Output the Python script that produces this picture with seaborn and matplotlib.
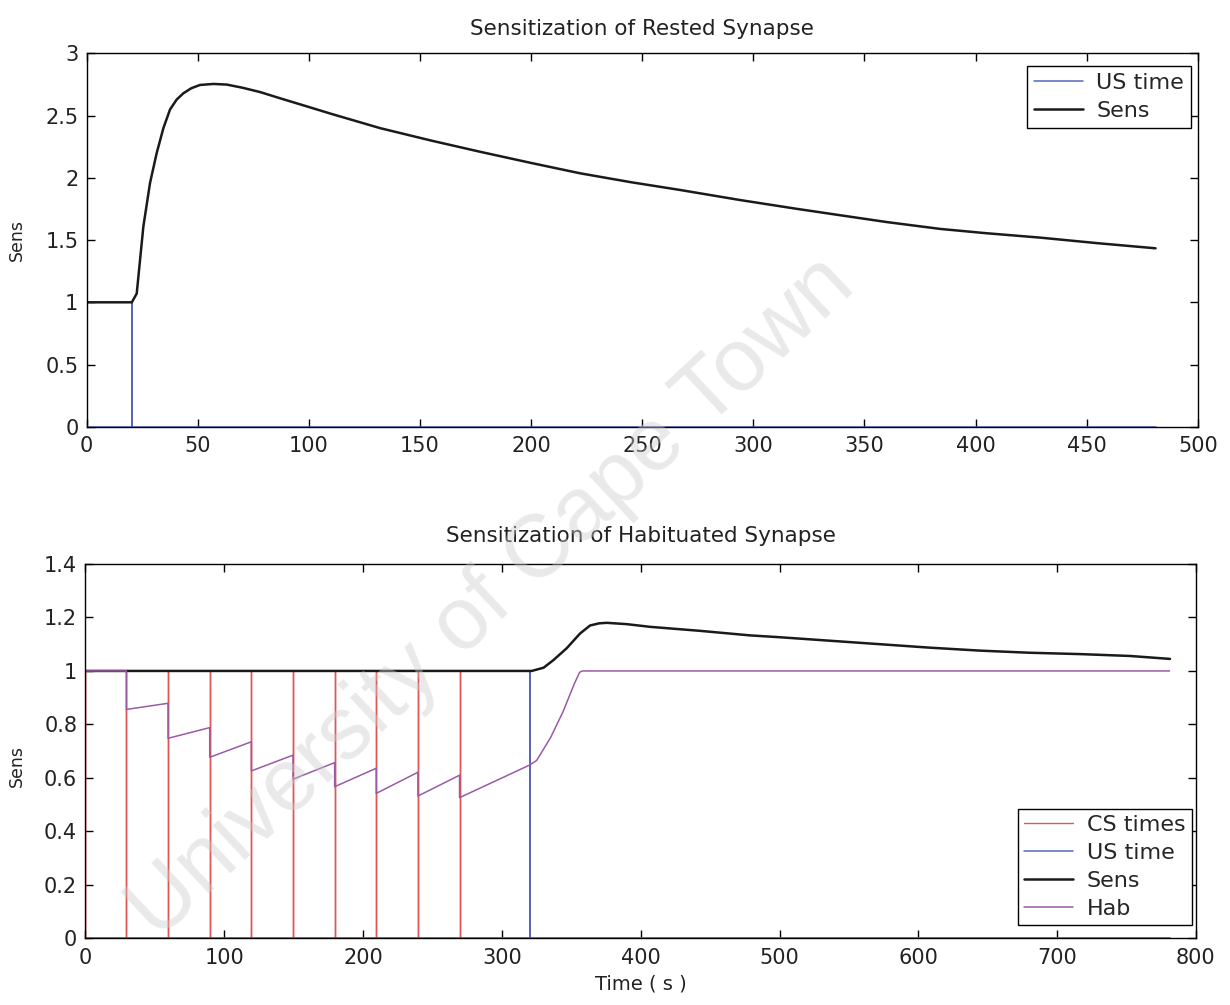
import matplotlib
matplotlib.use("Agg")
import numpy as np
import pandas as pd
import seaborn as sns
import matplotlib.pyplot as plt
from matplotlib.ticker import FuncFormatter

# ---------------- data ----------------
# Top panel: sensitization of a rested synapse
top_us_time = 20.3
top_end = 481.0
top_sens_t = [0, 20.3, 22.5, 25.5, 28.5, 31.5, 34.5, 37.5, 40.5, 43.5, 47, 51, 57, 63,
              70, 78, 87, 99, 110, 132, 155, 177, 200, 222, 245, 267, 294, 320, 339,
              360, 384, 405, 429, 455, 481]
top_sens_v = [1.0, 1.0, 1.07, 1.61, 1.96, 2.20, 2.40, 2.55, 2.63, 2.68, 2.72, 2.747, 2.755,
              2.750, 2.725, 2.69, 2.64, 2.575, 2.515, 2.40, 2.30, 2.21, 2.12, 2.037, 1.965,
              1.903, 1.822, 1.75, 1.70, 1.645, 1.59, 1.555, 1.52, 1.475, 1.434]

# Bottom panel: sensitization of a habituated synapse
bot_end = 781.0
cs_times = [0, 29.5, 59.5, 89.5, 119.5, 149.5, 179.5, 209.5, 239.5, 269.5]
bot_us_time = 320.0
hab_before = [1.0, 0.879, 0.788, 0.735, 0.685, 0.657, 0.636, 0.621, 0.610]
hab_after = [0.856, 0.748, 0.677, 0.626, 0.595, 0.567, 0.542, 0.532, 0.526]
hab_rec_t = [320, 325, 335, 344, 352, 356, 358, 781]
hab_rec_v = [0.648, 0.665, 0.75, 0.847, 0.95, 0.995, 1.0, 1.0]
bot_sens_t = [0, 321.5, 330, 337, 346.7, 356.3, 363.5, 370, 375.5, 390, 406.7, 442.7,
              478.7, 500.4, 536.4, 572.4, 608.4, 644.4, 680.4, 716.5, 752.5, 781.3]
bot_sens_v = [1.0, 1.0, 1.012, 1.04, 1.085, 1.14, 1.17, 1.178, 1.18, 1.175, 1.165, 1.15,
              1.133, 1.126, 1.113, 1.10, 1.087, 1.076, 1.068, 1.063, 1.056, 1.045]

top_xticks = list(range(0, 501, 50))
top_yticks = [0, 0.5, 1, 1.5, 2, 2.5, 3]
bot_xticks = list(range(0, 801, 100))
bot_yticks = [0, 0.2, 0.4, 0.6, 0.8, 1.0, 1.2, 1.4]

# ---------------- build series ----------------
def spikes(times, end):
    xs, ys = [0.0], [0.0]
    for c in times:
        xs += [c, c, c]
        ys += [0.0, 1.0, 0.0]
    xs.append(end)
    ys.append(0.0)
    return pd.DataFrame({"t": xs, "v": ys})

top_us_df = spikes([top_us_time], top_end)
top_sens_df = pd.DataFrame({"t": top_sens_t, "v": top_sens_v})

cs_df = spikes(cs_times, bot_end)
bot_us_df = spikes([bot_us_time], bot_end)
bot_sens_df = pd.DataFrame({"t": bot_sens_t, "v": bot_sens_v})
hx, hy = [0.0], [1.0]
for c, b, a in zip(cs_times[1:], hab_before, hab_after):
    hx += [c, c]
    hy += [b, a]
hx += hab_rec_t
hy += hab_rec_v
hab_df = pd.DataFrame({"t": hx, "v": hy})

# ---------------- style ----------------
sns.set_style("ticks")
plt.rcParams["font.family"] = ["DejaVu Sans"]
plt.rcParams["axes.edgecolor"] = "black"
plt.rcParams["axes.linewidth"] = 1.0

C_CS = "#e05555"
C_US = "#5566bb"
C_SENS = "#1a1a1a"
C_HAB = "#9a5aa5"

fig = plt.figure(figsize=(12.3, 10.05), dpi=100)
ax1 = fig.add_axes([0.0705, 0.5754, 0.9033, 0.3714])
ax2 = fig.add_axes([0.0695, 0.0664, 0.9028, 0.3724])

common = dict(x="t", y="v", estimator=None, sort=False)
sns.lineplot(data=top_us_df, ax=ax1, color=C_US, lw=1.1, label="US time", **common)
sns.lineplot(data=top_sens_df, ax=ax1, color=C_SENS, lw=1.8, label="Sens", **common)

sns.lineplot(data=cs_df, ax=ax2, color=C_CS, lw=1.0, label="CS times", **common)
sns.lineplot(data=bot_us_df, ax=ax2, color=C_US, lw=1.1, label="US time", **common)
sns.lineplot(data=bot_sens_df, ax=ax2, color=C_SENS, lw=1.8, label="Sens", **common)
sns.lineplot(data=hab_df, ax=ax2, color=C_HAB, lw=1.1, label="Hab", **common)

fmt = FuncFormatter(lambda v, p: f"{round(v, 2):g}")

for ax, xt, yt in [(ax1, top_xticks, top_yticks), (ax2, bot_xticks, bot_yticks)]:
    ax.set_xlim(xt[0], xt[-1])
    ax.set_ylim(yt[0], yt[-1])
    ax.set_xticks(xt)
    ax.set_yticks(yt)
    ax.xaxis.set_major_formatter(fmt)
    ax.yaxis.set_major_formatter(fmt)
    ax.tick_params(direction="in", top=True, right=True, length=6, width=1.0,
                   labelsize=15, colors="black", labelcolor="#222222")
    ax.tick_params(axis="x", pad=7)
    ax.tick_params(axis="y", pad=6)
    for s in ax.spines.values():
        s.set_visible(True)
        s.set_color("black")
        s.set_linewidth(1.0)
    ax.set_ylabel("Sens", fontsize=12.5, color="#222222")
    ax.grid(False)

ax1.set_xlabel("")
ax1.yaxis.set_label_coords(-0.0545, 0.5)
ax2.set_xlabel("Time ( s )", fontsize=14, color="#222222")
ax2.xaxis.set_label_coords(0.5, -0.098)
ax2.yaxis.set_label_coords(-0.0535, 0.46)

ax1.set_title("Sensitization of Rested Synapse", fontsize=15.5, pad=13, color="#222222")
ax2.set_title("Sensitization of Habituated Synapse", fontsize=15.5, pad=15.5, color="#222222")

leg_kw = dict(borderaxespad=0, fontsize=16, frameon=True,
              fancybox=False, edgecolor="black", framealpha=1, handlelength=2.2,
              handletextpad=0.6, labelspacing=0.35, borderpad=0.3)
l1 = ax1.legend(loc="upper right", bbox_to_anchor=(1 - 7 / 1111, 1 - 13 / 373), **leg_kw)
l2 = ax2.legend(loc="lower right", bbox_to_anchor=(1 - 4 / 1110, 13 / 374), **leg_kw)
for lg in (l1, l2):
    lg.get_frame().set_linewidth(1.0)

# watermark
fig.text(0.400, 0.405, "University of Cape Town", rotation=43, fontsize=64,
         color="#cccccc", alpha=0.42, ha="center", va="center", family="Liberation Sans")

fig.savefig("out.png", dpi=100)
